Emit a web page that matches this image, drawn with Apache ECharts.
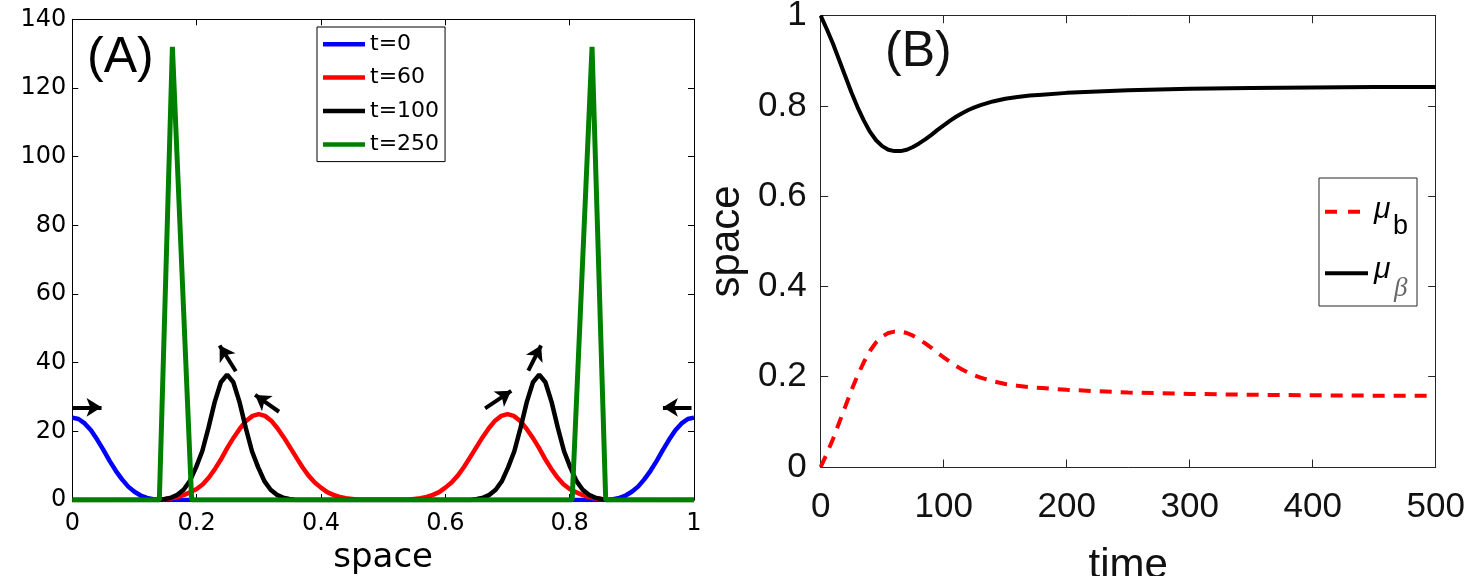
<!DOCTYPE html>
<html>
<head>
<meta charset="utf-8">
<script src="https://cdn.jsdelivr.net/npm/echarts@6/dist/echarts.min.js"></script>
<style>
html,body{margin:0;padding:0;background:#fff;}
#chart{width:1470px;height:576px;}
</style>
</head>
<body>
<div id="chart"></div>
<script>
// ---------- Panel A data (space vs density) ----------
const legendA = ['t=0', 't=60', 't=100', 't=250'];

const blueX = [0,0.01,0.02,0.03,0.04,0.05,0.06,0.07,0.08,0.09,0.10,0.11,0.12,0.13,0.14,
               0.86,0.87,0.88,0.89,0.90,0.91,0.92,0.93,0.94,0.95,0.96,0.97,0.98,0.99,1.0];
const blueY = [24.0,23.6,22.3,20.3,17.6,14.6,11.4,8.5,6.0,3.9,2.4,1.3,0.6,0.2,0.0,
               0.0,0.2,0.6,1.3,2.4,3.9,6.0,8.5,11.4,14.6,17.6,20.3,22.3,23.6,24.0];

const redX = [0,
  0.14,0.15,0.16,0.17,0.18,0.19,0.20,0.21,0.22,0.23,0.24,0.25,0.26,0.27,0.28,0.29,0.30,
  0.31,0.32,0.33,0.34,0.35,0.36,0.37,0.38,0.39,0.40,0.41,0.42,0.43,0.44,0.45,0.46,
  0.54,0.55,0.56,0.57,0.58,0.59,0.60,0.61,0.62,0.63,0.64,0.65,0.66,0.67,0.68,0.69,0.70,
  0.71,0.72,0.73,0.74,0.75,0.76,0.77,0.78,0.79,0.80,0.81,0.82,0.83,0.84,0.85,0.86,
  1];
const redY = [0,
  0.1,0.3,0.5,0.9,1.5,2.3,3.2,4.6,6.6,9.2,12.1,15.4,18.3,20.9,23.1,24.5,25.0,
  24.5,23.1,20.9,18.3,15.4,12.5,9.6,7.1,5.1,3.6,2.3,1.5,0.9,0.5,0.3,0.1,
  0.1,0.3,0.5,0.9,1.5,2.3,3.6,5.1,7.1,9.6,12.5,15.4,18.3,20.9,23.1,24.5,25.0,
  24.5,23.1,20.9,18.3,15.4,12.1,9.2,6.6,4.6,3.2,2.3,1.5,0.9,0.5,0.3,0.1,
  0];

const blackX = [0,
  0.139,0.149,0.159,0.169,0.179,0.189,0.199,0.209,0.219,0.229,0.239,0.249,
  0.259,0.269,0.279,0.289,0.299,0.309,0.319,0.329,0.339,0.349,0.359,
  0.641,0.651,0.661,0.671,0.681,0.691,0.701,0.711,0.721,0.731,0.741,0.751,
  0.761,0.771,0.781,0.791,0.801,0.811,0.821,0.831,0.841,0.851,0.861,
  1];
const blackY = [0,
  0,0.3,0.7,1.5,3.0,5.5,9.5,14.2,21.0,28.5,34.3,36.5,
  34.3,28.5,21.0,14.2,9.5,5.5,3.0,1.5,0.7,0.3,0,
  0,0.3,0.7,1.5,3.0,5.5,9.5,14.2,21.0,28.5,34.3,36.5,
  34.3,28.5,21.0,14.2,9.5,5.5,3.0,1.5,0.7,0.3,0,
  0];

const greenX = [0,0.140,0.161,0.192,0.804,0.836,0.858,1];
const greenY = [0,0,132,0,0,132,0,0];

// annotation arrows (start, end) in data units of panel A
const arrowsA = [
  [[0.000,27.0],[0.047,27.0]],
  [[0.263,37.5],[0.237,45.0]],
  [[0.3325,25.7],[0.294,30.6]],
  [[0.664,26.7],[0.706,31.8]],
  [[0.7335,37.7],[0.754,45.0]],
  [[0.996,27.0],[0.950,27.0]]
];

// ---------- Panel B data (time evolution) ----------
const timePts = [0,5,10,15,20,25,30,35,40,45,50,55,60,65,70,75,80,85,90,95,100,105,110,115,120,125,130,140,150,160,170,180,200,225,250,300,350,400,450,500];
const muBeta  = [1.000,0.970,0.938,0.902,0.866,0.830,0.797,0.768,0.743,0.724,0.711,0.703,0.700,0.700,0.703,0.709,0.717,0.726,0.736,0.747,0.757,0.767,0.776,0.784,0.791,0.797,0.802,0.810,0.816,0.820,0.823,0.825,0.829,0.832,0.835,0.838,0.840,0.841,0.842,0.842];
const muB     = [0.000,0.030,0.062,0.098,0.134,0.170,0.203,0.232,0.257,0.276,0.289,0.297,0.300,0.300,0.297,0.291,0.283,0.274,0.264,0.253,0.243,0.233,0.224,0.216,0.209,0.203,0.198,0.190,0.184,0.180,0.177,0.175,0.171,0.168,0.165,0.162,0.160,0.159,0.158,0.158];

const zip = (xs, ys) => xs.map((x, i) => [x, ys[i]]);

const FA = 'DejaVu Sans';
const FB = 'Liberation Sans';
const GB = '#262626';

function axisA(pos, showLabel, extra) {
  return Object.assign({
    gridIndex: 0, type: 'value', position: pos,
    axisLine: {show: true, onZero: false, lineStyle: {color: '#000', width: 1}},
    axisTick: {show: true, inside: true, length: 6, lineStyle: {color: '#000', width: 1}},
    axisLabel: {show: showLabel, color: '#000', fontFamily: FA, fontSize: 24},
    splitLine: {show: false}
  }, extra);
}
function axisB(pos, showLabel, extra) {
  return Object.assign({
    gridIndex: 1, type: 'value', position: pos,
    axisLine: {show: true, onZero: false, lineStyle: {color: GB, width: 1}},
    axisTick: {show: true, inside: true, length: 7.5, lineStyle: {color: GB, width: 1}},
    axisLabel: {show: showLabel, color: '#111', fontFamily: FB, fontSize: 35},
    splitLine: {show: false}
  }, extra);
}

const chart = echarts.init(document.getElementById('chart'), null, {renderer: 'canvas'});
chart.setOption({
  animation: false,
  backgroundColor: '#fff',
  grid: [
    {left: 72.3, top: 19.3, width: 621.7, height: 480.7, containLabel: false, outerBoundsMode: 'none'},
    {left: 820.7, top: 15.7, width: 615, height: 451.3, containLabel: false, outerBoundsMode: 'none'}
  ],
  xAxis: [
    axisA('bottom', true, {min: 0, max: 1, interval: 0.2,
      axisLabel: {show: true, color: '#000', fontFamily: FA, fontSize: 24, margin: 12},
      name: 'space', nameLocation: 'middle', nameGap: 37,
      nameTextStyle: {color: '#000', fontFamily: FA, fontSize: 34}}),
    axisA('top', false, {min: 0, max: 1, interval: 0.2}),
    axisB('bottom', true, {min: 0, max: 500, interval: 100,
      axisLabel: {show: true, color: '#111', fontFamily: FB, fontSize: 35, margin: 23},
      name: 'time', nameLocation: 'middle', nameGap: 78,
      nameTextStyle: {color: '#111', fontFamily: FB, fontSize: 42}}),
    axisB('top', false, {min: 0, max: 500, interval: 100})
  ],
  yAxis: [
    axisA('left', true, {min: 0, max: 140, interval: 20,
      axisLabel: {show: true, color: '#000', fontFamily: FA, fontSize: 24, margin: 6}}),
    axisA('right', false, {min: 0, max: 140, interval: 20}),
    axisB('left', true, {min: 0, max: 1, interval: 0.2,
      axisLabel: {show: true, color: '#111', fontFamily: FB, fontSize: 35, margin: 14},
      name: 'space', nameLocation: 'middle', nameGap: 72, nameRotate: 90,
      nameTextStyle: {color: '#111', fontFamily: FB, fontSize: 42}}),
    axisB('right', false, {min: 0, max: 1, interval: 0.2})
  ],
  legend: {
    data: legendA.map(n => ({name: n, icon: 'rect'})),
    orient: 'vertical', left: 317, top: 27,
    padding: [3, 6, 3, 6], itemGap: 5, itemWidth: 42, itemHeight: 4.5,
    selectedMode: false,
    borderColor: '#000', borderWidth: 1, borderRadius: 0, backgroundColor: '#fff',
    textStyle: {fontFamily: FA, fontSize: 22, color: '#000', lineHeight: 28.4}
  },
  series: [
    {name: 't=0', type: 'line', xAxisIndex: 0, yAxisIndex: 0, data: zip(blueX, blueY),
     symbol: 'none', color: '#0000ff', lineStyle: {color: '#0000ff', width: 4.5}},
    {name: 't=60', type: 'line', xAxisIndex: 0, yAxisIndex: 0, data: zip(redX, redY),
     symbol: 'none', color: '#ff0000', lineStyle: {color: '#ff0000', width: 4.5}},
    {name: 't=100', type: 'line', xAxisIndex: 0, yAxisIndex: 0, data: zip(blackX, blackY),
     symbol: 'none', color: '#000000', lineStyle: {color: '#000000', width: 4.5}},
    {name: 't=250', type: 'line', xAxisIndex: 0, yAxisIndex: 0, data: zip(greenX, greenY),
     symbol: 'none', color: '#008000', lineStyle: {color: '#008000', width: 5},
     markLine: {
       silent: true, symbol: ['none', 'arrow'], symbolSize: [14, 15],
       label: {show: false},
       lineStyle: {color: '#000', width: 4, type: 'solid'},
       emphasis: {disabled: true},
       data: arrowsA.map(a => [{coord: a[0]}, {coord: a[1]}])
     }},
    {name: 'mu_b', type: 'line', xAxisIndex: 2, yAxisIndex: 2, data: zip(timePts, muB),
     symbol: 'none', color: '#ff0000',
     lineStyle: {color: '#ff0000', width: 4, type: [12, 9]}},
    {name: 'mu_beta', type: 'line', xAxisIndex: 2, yAxisIndex: 2, data: zip(timePts, muBeta),
     symbol: 'none', color: '#000000',
     lineStyle: {color: '#000000', width: 4}}
  ],
  graphic: [
    {type: 'text', x: 87, y: 58, silent: true,
     style: {text: '(A)', font: '50px "Liberation Sans"', fill: '#000', align: 'left', verticalAlign: 'middle'}},
    {type: 'text', x: 885, y: 52, silent: true,
     style: {text: '(B)', font: '50px "Liberation Sans"', fill: '#111', align: 'left', verticalAlign: 'middle'}},
    {type: 'rect', silent: true, shape: {x: 1319, y: 178, width: 98, height: 128},
     style: {fill: '#fff', stroke: GB, lineWidth: 1}},
    {type: 'line', silent: true, shape: {x1: 1325, y1: 211.7, x2: 1361, y2: 211.7},
     style: {stroke: '#ff0000', lineWidth: 4, lineDash: [12, 11]}},
    {type: 'line', silent: true, shape: {x1: 1325, y1: 273.3, x2: 1368, y2: 273.3},
     style: {stroke: '#000', lineWidth: 4}},
    {type: 'text', x: 1374, y: 210, silent: true,
     style: {text: 'μ', font: 'italic 30px "Liberation Sans"', fill: '#000', align: 'left', verticalAlign: 'middle'}},
    {type: 'text', x: 1393, y: 227, silent: true,
     style: {text: 'b', font: '27px "Liberation Sans"', fill: '#000', align: 'left', verticalAlign: 'middle'}},
    {type: 'text', x: 1374, y: 270, silent: true,
     style: {text: 'μ', font: 'italic 30px "Liberation Sans"', fill: '#000', align: 'left', verticalAlign: 'middle'}},
    {type: 'text', x: 1394, y: 289, silent: true,
     style: {text: 'β', font: 'italic 27px "Liberation Serif"', fill: '#666', align: 'left', verticalAlign: 'middle'}}
  ]
});
</script>
</body>
</html>
